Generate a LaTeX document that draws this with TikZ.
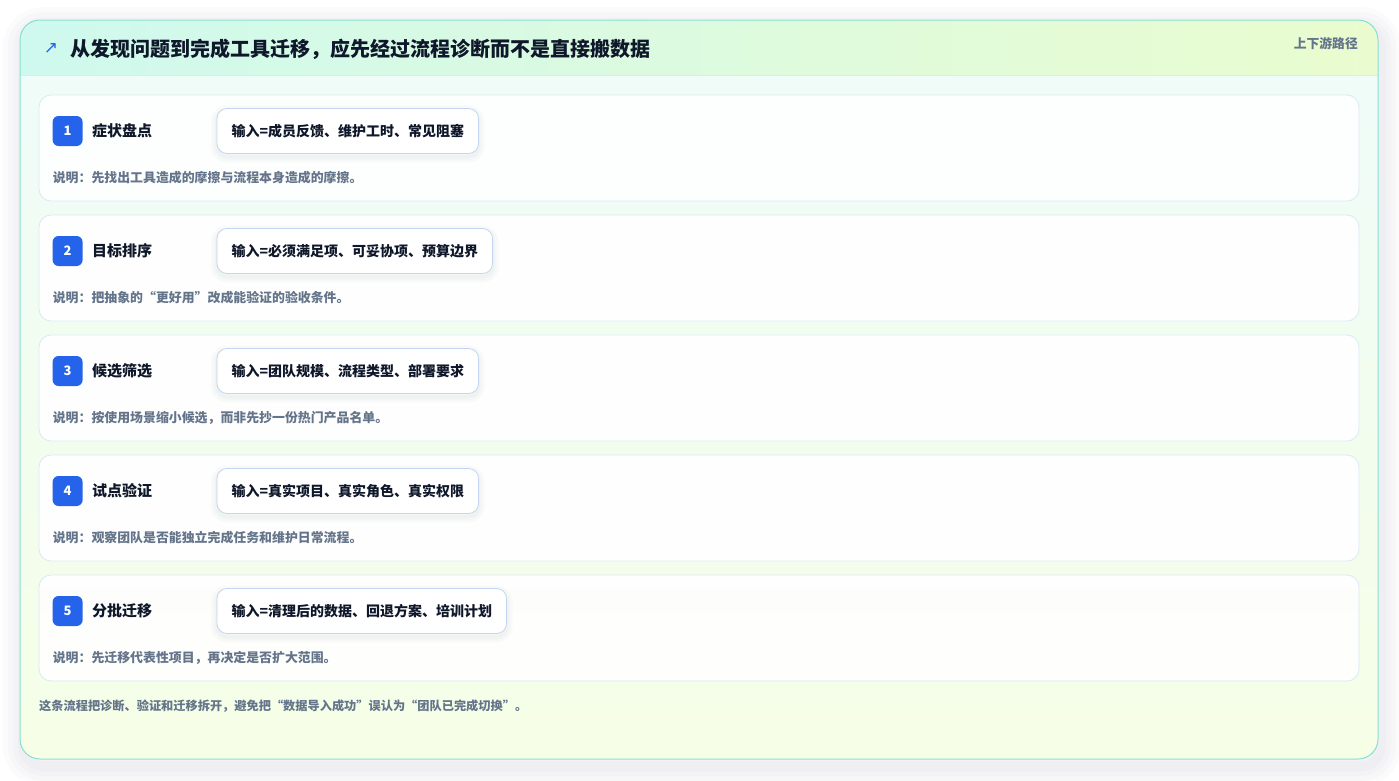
\documentclass[tikz,border=0pt]{standalone}
\usepackage{fontspec}
\setmainfont{Noto Sans CJK SC}
\newfontfamily\symfont{DejaVu Sans}
\usetikzlibrary{positioning, calc}

\definecolor{frameline}{HTML}{86E2D2}
\definecolor{headleft}{HTML}{CFF9EE}
\definecolor{headright}{HTML}{EAFCCF}
\definecolor{headrule}{HTML}{D2F1EE}
\definecolor{bodytop}{HTML}{EFFCF8}
\definecolor{bodybot}{HTML}{F6FEE6}
\definecolor{cardline}{HTML}{D9EAF3}
\definecolor{boxline}{HTML}{C3D5F2}
\definecolor{badgeblue}{HTML}{2563EB}
\definecolor{inktext}{HTML}{0F172A}
\definecolor{mutedtext}{HTML}{64748B}
\definecolor{shadowgrey}{HTML}{475569}

\begin{document}
\begin{tikzpicture}[x=1pt, y=-1pt,
    softshadow/.style={preaction={draw=shadowgrey, line width=#1, draw opacity=0.025, transform canvas={yshift=-3pt}}},
    stepcard/.style={draw=cardline, line width=0.8pt, fill=white, fill opacity=0.9, rounded corners=12pt, minimum width=1320pt, minimum height=106pt, inner sep=0pt},
    badge/.style={fill=badgeblue, rounded corners=6pt, minimum size=30pt, inner sep=0pt, text=white, font=\fontsize{13}{15}\selectfont\bfseries},
    steptitle/.style={inner sep=0pt, text=inktext, font=\fontsize{15}{18}\selectfont\bfseries},
    inputbox/.style={softshadow=12pt, softshadow=7pt, softshadow=3pt, draw=boxline, line width=0.8pt, fill=white, rounded corners=10pt, minimum height=45pt, inner xsep=14.5pt, text=inktext, font=\fontsize{14}{16}\selectfont\bfseries},
    note/.style={inner sep=0pt, anchor=west, text=mutedtext, font=\fontsize{12.9}{15}\selectfont\bfseries}
]
    \useasboundingbox (0,0) rectangle (1399,780);
    \fill[white] (0,0) rectangle (1399,780);

    % Outer frame with header band
    \foreach \w in {40,30,20,10}
        \draw[shadowgrey, line width=\w pt, draw opacity=0.02, rounded corners=20pt, transform canvas={xshift=3pt, yshift=-7pt}] (20,20) rectangle (1378,759);
    \begin{scope}
        \clip[rounded corners=20pt] (20,20) rectangle (1378,759);
        \fill[top color=bodytop, bottom color=bodybot] (20,75) rectangle (1378,759);
        \fill[left color=headleft, right color=headright] (20,20) rectangle (1378,75);
    \end{scope}
    \draw[headrule, line width=0.8pt] (20,75) -- (1378,75);
    \draw[frameline, line width=1pt, rounded corners=20pt] (20,20) rectangle (1378,759);

    \node[text=badgeblue, inner sep=0pt, font=\symfont\fontsize{17}{20}\selectfont] (arrow) at (51,49) {↗};
    \node[anchor=west, inner sep=0pt, text=inktext, font=\fontsize{20}{24}\selectfont\bfseries] (title) at (70,49) {从发现问题到完成工具迁移，应先经过流程诊断而不是直接搬数据};
    \node[anchor=east, inner sep=0pt, text=mutedtext, font=\fontsize{12.8}{15}\selectfont\bfseries] (tag) at (1358,44) {上下游路径};

    % Step 1
    \node[stepcard] (card1) at (699,148) {};
    \node[badge] (badge1) at ($(card1.west)+(29,-17)$) {1};
    \node[steptitle, right=9pt of badge1] (title1) {症状盘点};
    \node[inputbox, anchor=west] (input1) at ($(card1.west)+(178,-17)$) {输入=成员反馈、维护工时、常见阻塞};
    \node[note] (note1) at ($(card1.west)+(14,30)$) {说明：先找出工具造成的摩擦与流程本身造成的摩擦。};

    % Step 2
    \node[stepcard] (card2) at (699,268) {};
    \node[badge] (badge2) at ($(card2.west)+(29,-17)$) {2};
    \node[steptitle, right=9pt of badge2] (title2) {目标排序};
    \node[inputbox, anchor=west] (input2) at ($(card2.west)+(178,-17)$) {输入=必须满足项、可妥协项、预算边界};
    \node[note] (note2) at ($(card2.west)+(14,30)$) {说明：把抽象的“更好用”改成能验证的验收条件。};

    % Step 3
    \node[stepcard] (card3) at (699,388) {};
    \node[badge] (badge3) at ($(card3.west)+(29,-17)$) {3};
    \node[steptitle, right=9pt of badge3] (title3) {候选筛选};
    \node[inputbox, anchor=west] (input3) at ($(card3.west)+(178,-17)$) {输入=团队规模、流程类型、部署要求};
    \node[note] (note3) at ($(card3.west)+(14,30)$) {说明：按使用场景缩小候选，而非先抄一份热门产品名单。};

    % Step 4
    \node[stepcard] (card4) at (699,508) {};
    \node[badge] (badge4) at ($(card4.west)+(29,-17)$) {4};
    \node[steptitle, right=9pt of badge4] (title4) {试点验证};
    \node[inputbox, anchor=west] (input4) at ($(card4.west)+(178,-17)$) {输入=真实项目、真实角色、真实权限};
    \node[note] (note4) at ($(card4.west)+(14,30)$) {说明：观察团队是否能独立完成任务和维护日常流程。};

    % Step 5
    \node[stepcard] (card5) at (699,628) {};
    \node[badge] (badge5) at ($(card5.west)+(29,-17)$) {5};
    \node[steptitle, right=9pt of badge5] (title5) {分批迁移};
    \node[inputbox, anchor=west] (input5) at ($(card5.west)+(178,-17)$) {输入=清理后的数据、回退方案、培训计划};
    \node[note] (note5) at ($(card5.west)+(14,30)$) {说明：先迁移代表性项目，再决定是否扩大范围。};

    % Footer
    \node[note, font=\fontsize{12.2}{15}\selectfont\bfseries] (footer) at (39,706) {这条流程把诊断、验证和迁移拆开，避免把“数据导入成功”误认为“团队已完成切换”。};
\end{tikzpicture}
\end{document}
